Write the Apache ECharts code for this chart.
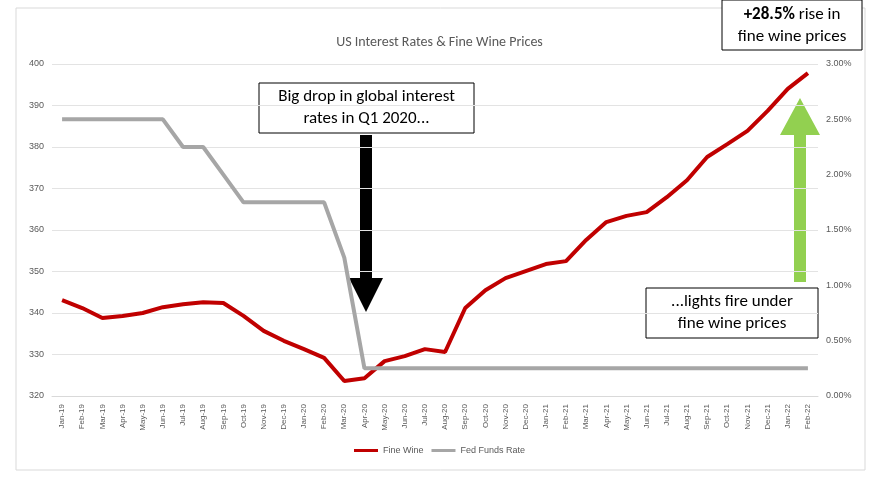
<!DOCTYPE html><html><head><meta charset="utf-8"><script src="https://cdn.jsdelivr.net/npm/echarts@6/dist/echarts.min.js"></script>
<style>body{margin:0;background:#fff}#c{width:879px;height:484px}</style></head><body><div id="c"></div><script>
const months=['Jan-19','Feb-19','Mar-19','Apr-19','May-19','Jun-19','Jul-19','Aug-19','Sep-19','Oct-19','Nov-19','Dec-19','Jan-20','Feb-20','Mar-20','Apr-20','May-20','Jun-20','Jul-20','Aug-20','Sep-20','Oct-20','Nov-20','Dec-20','Jan-21','Feb-21','Mar-21','Apr-21','May-21','Jun-21','Jul-21','Aug-21','Sep-21','Oct-21','Nov-21','Dec-21','Jan-22','Feb-22'];
const fineWine=[343.1,341.2,338.8,339.3,340,341.4,342.1,342.6,342.4,339.3,335.7,333.3,331.3,329.2,323.6,324.3,328.4,329.6,331.3,330.6,341.2,345.5,348.4,350.1,351.8,352.5,357.6,361.9,363.4,364.3,367.9,372,377.6,380.7,383.9,388.7,394,397.8];
const fedFunds=[2.5,2.5,2.5,2.5,2.5,2.5,2.25,2.25,2,1.75,1.75,1.75,1.75,1.75,1.25,0.25,0.25,0.25,0.25,0.25,0.25,0.25,0.25,0.25,0.25,0.25,0.25,0.25,0.25,0.25,0.25,0.25,0.25,0.25,0.25,0.25,0.25,0.25];
const chart=echarts.init(document.getElementById('c'));
const txt={fontFamily:'Calibri, Carlito, "Liberation Sans", sans-serif'};
chart.setOption({
 animation:false,
 title:{text:'US Interest Rates & Fine Wine Prices',left:'center',top:30,textStyle:{fontSize:14,fontWeight:'normal',color:'#595959',fontFamily:txt.fontFamily}},
 grid:{left:52,right:61,top:64,bottom:88},
 legend:{bottom:24,itemWidth:24,itemHeight:3,icon:'rect',textStyle:{fontSize:9,color:'#595959'},data:['Fine Wine','Fed Funds Rate']},
 xAxis:{type:'category',data:months,axisLine:{lineStyle:{color:'#d9d9d9'}},axisTick:{show:false},axisLabel:{rotate:90,fontSize:8,color:'#595959',interval:0}},
 yAxis:[{type:'value',min:320,max:400,interval:10,axisLabel:{fontSize:9,color:'#595959'},splitLine:{lineStyle:{color:'#e3e3e3'}}},
 {type:'value',min:0,max:3,interval:0.5,axisLabel:{fontSize:9,color:'#595959',formatter:v=>v.toFixed(2)+'%'},splitLine:{show:false}}],
 series:[{name:'Fine Wine',type:'line',data:fineWine,symbol:'none',lineStyle:{width:4,color:'#c00000'},itemStyle:{color:'#c00000'}},
 {name:'Fed Funds Rate',type:'line',yAxisIndex:1,data:fedFunds,symbol:'none',lineStyle:{width:4,color:'#a6a6a6'},itemStyle:{color:'#a6a6a6'}}],
 graphic:[
  {type:'rect',shape:{x:16,y:8,width:849,height:462},style:{fill:'none',stroke:'#d9d9d9',lineWidth:1},z:-1},
  {type:'polygon',shape:{points:[[360,135],[372,135],[372,278],[383,278],[366,312],[349,278],[360,278]]},style:{fill:'#000'}},
  {type:'polygon',shape:{points:[[794,282],[806,282],[806,135],[820,135],[800,98],[780,135],[794,135]]},style:{fill:'#92d050'}},
  {type:'rect',shape:{x:259,y:83,width:215,height:50},style:{fill:'#fff',stroke:'#000',lineWidth:1}},
  {type:'text',x:366.5,y:108,style:{text:'Big drop in global interest\nrates in Q1 2020...',fontSize:17,lineHeight:22,fill:'#000',align:'center',verticalAlign:'middle',fontFamily:txt.fontFamily}},
  {type:'rect',shape:{x:646,y:288,width:172,height:50},style:{fill:'#fff',stroke:'#000',lineWidth:1}},
  {type:'text',x:732,y:313,style:{text:'...lights fire under\nfine wine prices',fontSize:17,lineHeight:22,fill:'#000',align:'center',verticalAlign:'middle',fontFamily:txt.fontFamily}},
  {type:'rect',shape:{x:722,y:0,width:140,height:50},style:{fill:'#fff',stroke:'#000',lineWidth:1}},
  {type:'text',x:792,y:26,style:{text:'{b|+28.5%} rise in\nfine wine prices',fontSize:17,lineHeight:22,fill:'#000',align:'center',verticalAlign:'middle',fontFamily:txt.fontFamily,rich:{b:{fontWeight:'bold',fontSize:17,fontFamily:txt.fontFamily}}}}
 ]
});
</script></body></html>
